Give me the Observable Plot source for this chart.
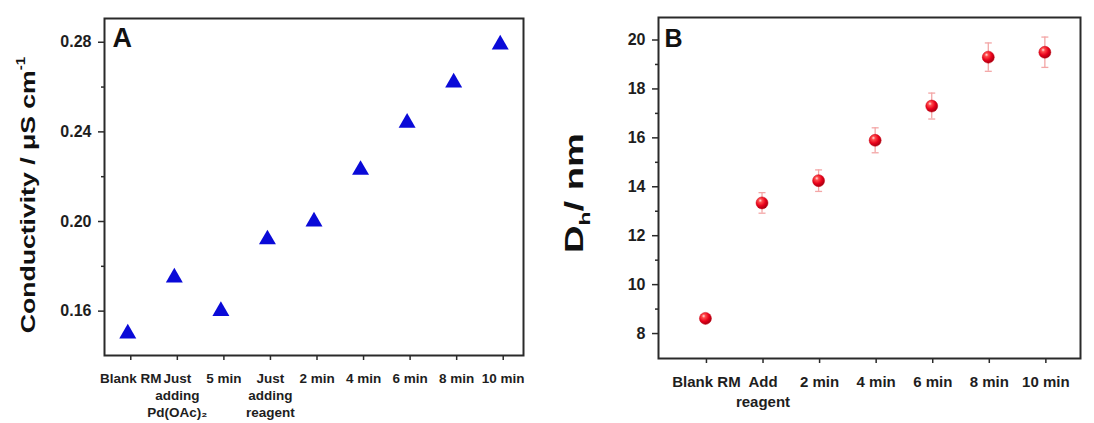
<!DOCTYPE html>
<html><head><meta charset="utf-8">
<script src="https://cdn.jsdelivr.net/npm/d3@7"></script>
<script src="https://cdn.jsdelivr.net/npm/@observablehq/plot@0.6"></script>
<style>
body{margin:0;background:#fff;}
#wrap{position:relative;width:1094px;height:423px;overflow:hidden;background:#fff;font-family:"Liberation Sans",Arial,sans-serif;}
#wrap svg{position:absolute;top:0;overflow:visible;}
</style></head><body><div id="wrap"></div>
<script>
// Panel A: conductivity
const catsA = ["Blank RM","Just\nadding\nPd(OAc)₂","5 min","Just\nadding\nreagent","2 min","4 min","6 min","8 min","10 min"];
const condA = [0.150,0.175,0.160,0.192,0.200,0.223,0.244,0.262,0.279];
const yTicksA = [0.16,0.20,0.24,0.28];
const yMinorA = [0.18,0.22,0.26];
// Panel B: hydrodynamic diameter
const catsB = ["Blank RM","Add\nreagent","2 min","4 min","6 min","8 min","10 min"];
const dhB = [8.62,13.34,14.25,15.9,17.3,19.3,19.5];
const errB = [0.15,0.42,0.44,0.51,0.53,0.58,0.62];
const yTicksB = [8,10,12,14,16,18,20];
const yMinorB = [9,11,13,15,17,19];

const dataA = catsA.map((c,i)=>({pos:i+1, label:c, v:condA[i]}));
const dataB = catsB.map((c,i)=>({pos:i+1, label:c, v:dhB[i], e:errB[i]}));

const FONT = "Liberation Sans, Arial, sans-serif";
const INK = "#1e1e1e";
const LINE = "#2a2a2a";

const capSymbol = {draw(ctx, size){ const r = Math.sqrt(size/Math.PI); ctx.moveTo(-r,0); ctx.lineTo(r,0); }};

const plotA = Plot.plot({
  width:545, height:423,
  marginLeft:104, marginRight:22, marginTop:18, marginBottom:68,
  style:{fontFamily:FONT, background:"transparent", overflow:"visible"},
  x:{domain:[0.5,9.5], label:null},
  y:{domain:[0.1402,0.2906], label:null},
  marks:[
    Plot.axisY({ticks:yMinorA, tickSize:3, fill:"none", stroke:LINE, strokeWidth:1.5, label:null}),
    Plot.axisY({ticks:yTicksA, tickSize:6, tickPadding:7, tickFormat:d3.format(".2f"), fontSize:16, fontWeight:"bold", stroke:LINE, strokeWidth:1.5, fill:INK, label:null}),
    Plot.axisX({ticks:d3.range(1, catsA.length+1), tickSize:5, tickPadding:11, tickFormat:d=>catsA[d-1], fontSize:13.5, fontWeight:"bold", lineHeight:1.25, dx:3, stroke:LINE, strokeWidth:1.5, fill:INK, label:null}),
    Plot.dot(dataA, {x:"pos", y:"v", symbol:"triangle", r:6.3, fill:"#0a0ad8", stroke:"none"}),
    Plot.frame({stroke:LINE, strokeWidth:2}),
    Plot.text(["A"], {frameAnchor:"top-left", dx:8, dy:9, lineAnchor:"top", textAnchor:"start", fontSize:27, fontWeight:"bold", fill:"#111"})
  ]
});

const plotB = Plot.plot({
  width:549, height:423,
  marginLeft:113, marginRight:14, marginTop:17, marginBottom:65,
  style:{fontFamily:FONT, background:"transparent", overflow:"visible"},
  x:{domain:[0.17,7.63], label:null},
  y:{domain:[6.98,20.92], label:null},
  marks:[
    Plot.axisY({ticks:yMinorB, tickSize:3, fill:"none", stroke:LINE, strokeWidth:1.5, label:null}),
    Plot.axisY({ticks:yTicksB, tickSize:6, tickPadding:7, fontSize:16, fontWeight:"bold", stroke:LINE, strokeWidth:1.5, fill:INK, label:null}),
    Plot.axisX({ticks:d3.range(1, catsB.length+1), tickSize:5, tickPadding:10, tickFormat:d=>catsB[d-1], fontSize:15, fontWeight:"bold", lineHeight:1.3, dx:1, stroke:LINE, strokeWidth:1.5, fill:INK, label:null}),
    Plot.ruleX(dataB, {x:"pos", y1:d=>d.v-d.e, y2:d=>d.v+d.e, stroke:"#f3a6a6", strokeWidth:1.3}),
    Plot.dot(dataB, {x:"pos", y:d=>d.v+d.e, symbol:capSymbol, r:3.5, stroke:"#f3a6a6", strokeWidth:1.3, fill:"none"}),
    Plot.dot(dataB, {x:"pos", y:d=>d.v-d.e, symbol:capSymbol, r:3.5, stroke:"#f3a6a6", strokeWidth:1.3, fill:"none"}),
    Plot.dot(dataB, {x:"pos", y:"v", r:6, fill:"url(#sphereGrad)", stroke:"#c80010", strokeWidth:0.5}),
    Plot.frame({stroke:LINE, strokeWidth:2}),
    Plot.text(["B"], {frameAnchor:"top-left", dx:6, dy:12, lineAnchor:"top", textAnchor:"start", fontSize:25, fontWeight:"bold", fill:"#111"})
  ]
});

const wrap = document.getElementById("wrap");
plotA.style.left = "0px";
plotB.style.left = "545px";
wrap.appendChild(plotA);
wrap.appendChild(plotB);

// sphere gradient for panel B markers
const defs = d3.select(plotB).insert("defs", ":first-child");
const g = defs.append("radialGradient").attr("id","sphereGrad").attr("cx","38%").attr("cy","35%").attr("r","70%").attr("fx","35%").attr("fy","30%");
[["0%","#ffe0e0"],["22%","#ff4a4a"],["60%","#e8001a"],["100%","#9a0010"]].forEach(([o,c])=>g.append("stop").attr("offset",o).attr("stop-color",c));

// y-axis titles
function yTitle(svg, x, y, fontSize, targetLen, build){
  const t = d3.select(svg).append("text")
    .attr("text-anchor","middle")
    .attr("font-family", FONT)
    .attr("font-weight","bold")
    .attr("font-size", fontSize)
    .attr("fill","#111");
  build(t);
  const w = t.node().getBBox().width;
  const sx = w > 0 ? targetLen / w : 1;
  t.attr("transform", `translate(${x},${y}) rotate(-90) scale(${sx},1)`);
}
yTitle(plotA, 35, 195, 21, 277, t => {
  t.append("tspan").text("Conductivity / μS cm");
  t.append("tspan").attr("font-size", 12).attr("dy", -10).text("-1");
});
yTitle(plotB, 38, 193, 25, 120, t => {
  t.append("tspan").text("D");
  t.append("tspan").attr("font-size", 15).attr("dy", 7).text("h");
  t.append("tspan").attr("dy", -7).text("/ nm");
});
</script>
</body></html>
